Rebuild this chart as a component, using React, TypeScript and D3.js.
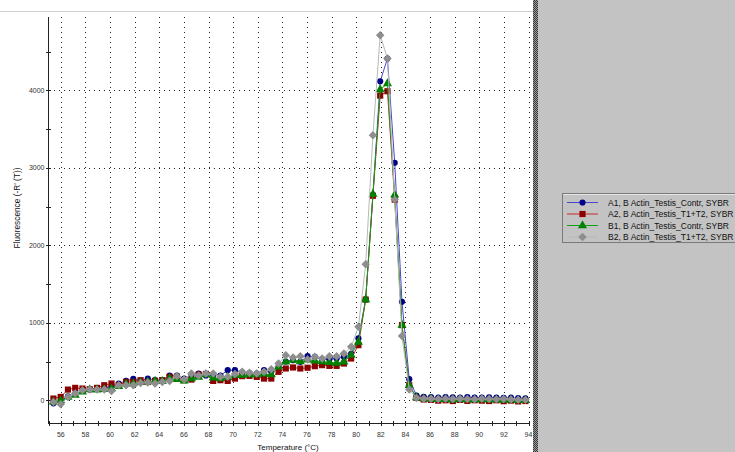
import React from "react";
import * as d3 from "d3";

const temps = [55.40,55.99,56.58,57.17,57.76,58.35,58.94,59.53,60.12,60.71,61.30,61.89,62.48,63.07,63.66,64.25,64.84,65.43,66.02,66.61,67.20,67.79,68.38,68.97,69.56,70.15,70.74,71.33,71.92,72.51,73.10,73.69,74.28,74.87,75.46,76.05,76.64,77.23,77.82,78.41,79.00,79.59,80.18,80.77,81.36,81.95,82.54,83.13,83.72,84.31,84.90,85.49,86.08,86.67,87.26,87.85,88.44,89.03,89.62,90.21,90.80,91.39,91.98,92.57,93.16,93.75];

const a1 = [-40,-15,50,85,125,140,150,160,175,215,250,275,250,280,260,260,320,320,280,320,345,320,330,320,388,388,360,350,345,388,367,430,500,517,496,569,561,530,530,540,560,600,798,1300,2650,4118,4411,3066,1272,272,60,45,40,35,40,38,35,40,36,34,38,35,30,33,28,25];
const a2 = [22,43,138,160,151,142,160,194,216,194,237,237,259,237,250,259,302,302,259,267,330,340,250,259,250,280,311,315,302,280,280,367,410,423,410,420,440,453,444,444,474,539,711,1300,2640,3933,3989,2590,970,194,30,10,5,-5,0,-10,5,-8,0,-5,-10,0,-12,-5,-15,-10];
const b1 = [-20,-5,40,65,108,140,135,140,150,180,210,215,230,240,250,245,280,270,250,280,300,330,290,280,300,323,323,330,330,340,330,431,496,517,500,520,510,500,490,480,497,582,751,1300,2660,4010,4088,2650,970,194,35,20,15,10,12,5,10,8,5,10,4,8,2,5,0,3];
const b2 = [-22,-52,43,86,129,138,138,138,121,194,194,194,224,230,216,237,250,310,267,345,320,345,345,302,302,340,367,354,345,367,400,474,582,552,569,526,561,539,569,569,604,690,948,1755,3420,4713,4411,2590,828,138,30,20,18,15,20,15,18,16,14,18,15,12,15,10,8,5];

const seriesNames = [
  "A1, B Actin_Testis_Contr, SYBR",
  "A2, B Actin_Testis_T1+T2, SYBR",
  "B1, B Actin_Testis_Contr, SYBR",
  "B2, B Actin_Testis_T1+T2, SYBR",
];
const seriesValues = [a1, a2, b1, b2];
const lineColors = ["#4646d2", "#c42a2a", "#10a010", "#b8b8b8"];
const markerColors = ["#000088", "#8b0000", "#008000", "#8e8e8e"];
const markerTypes = ["circle", "square", "triangle", "diamond"];

const xTicksLabeled = [56,58,60,62,64,66,68,70,72,74,76,78,80,82,84,86,88,90,92,94];
const xMinorTicks = d3.range(55, 95, 1);
const yTicksLabeled = [0, 1000, 2000, 3000, 4000];
const yMinorTicks = [500, 1500, 2500, 3500, 4500];

const W = 735, H = 452;
const FONT = "'Liberation Sans', Arial, sans-serif";

function markerPath(type: string): string {
  const s = d3.symbol();
  if (type === "circle") return s.type(d3.symbolCircle).size(30)() as string;
  if (type === "square") return s.type(d3.symbolSquare).size(38)() as string;
  if (type === "triangle") return s.type(d3.symbolTriangle).size(36)() as string;
  return s.type(d3.symbolSquare).size(36)() as string;
}

export default function App() {
  const x = d3.scaleLinear().domain([55, 94]).range([48.5, 528.5]);
  const y = d3.scaleLinear().domain([-300, 4950]).range([423.5, 16.8]);
  const plotL = 48.5, plotR = 528.5, plotT = 16.8, plotB = 423.5;

  const line = d3
    .line<number>()
    .x((_, i) => x(temps[i]))
    .y((d) => y(d));

  return (
    <svg
      width={W}
      height={H}
      style={{ position: "fixed", left: 0, top: 0, display: "block", background: "#fff" }}
      fontFamily={FONT}
    >
      <defs>
        <pattern id="checker" width="2" height="2" patternUnits="userSpaceOnUse">
          <rect width="2" height="2" fill="#9a9a9a" />
          <rect width="1" height="1" fill="#3a3a3a" />
          <rect x="1" y="1" width="1" height="1" fill="#3a3a3a" />
        </pattern>
        <clipPath id="plotclip">
          <rect x={0} y={0} width={532} height={H} />
        </clipPath>
      </defs>

      <rect x={0} y={0} width={533} height={H} fill="#fff" />
      <line x1={0} x2={533} y1={11.5} y2={11.5} stroke="#cfcfcf" strokeWidth={1} />

      {/* grid */}
      {xTicksLabeled.map((t) => (
        <line
          key={"gx" + t}
          x1={Math.round(x(t)) + 0.5}
          x2={Math.round(x(t)) + 0.5}
          y1={plotT}
          y2={plotB}
          stroke="#222"
          strokeDasharray="1,4"
          shapeRendering="crispEdges"
        />
      ))}
      {yTicksLabeled.map((t) => (
        <line
          key={"gy" + t}
          x1={plotL}
          x2={plotR}
          y1={Math.round(y(t)) + 0.5}
          y2={Math.round(y(t)) + 0.5}
          stroke="#222"
          strokeDasharray="1,4"
          shapeRendering="crispEdges"
        />
      ))}

      {/* axes */}
      <line x1={plotL} x2={plotL} y1={plotT} y2={plotB} stroke="#222" shapeRendering="crispEdges" />
      <line x1={plotL} x2={plotR} y1={plotB} y2={plotB} stroke="#222" shapeRendering="crispEdges" />
      {yTicksLabeled.concat(yMinorTicks).map((t) => (
        <line
          key={"ty" + t}
          x1={plotL - 2.5}
          x2={plotL + 2.5}
          y1={Math.round(y(t)) + 0.5}
          y2={Math.round(y(t)) + 0.5}
          stroke="#222"
          shapeRendering="crispEdges"
        />
      ))}
      {xMinorTicks.map((t) => (
        <line
          key={"tx" + t}
          x1={Math.round(x(t)) + 0.5}
          x2={Math.round(x(t)) + 0.5}
          y1={plotB - 2.5}
          y2={plotB + 2.5}
          stroke="#222"
          shapeRendering="crispEdges"
        />
      ))}
      {yTicksLabeled.map((t) => (
        <text key={"ly" + t} x={44.5} y={y(t) + 2.5} fontSize={7} textAnchor="end" fill="#333">
          {t}
        </text>
      ))}
      {xTicksLabeled.map((t) => (
        <text key={"lx" + t} x={x(t)} y={437} fontSize={7} textAnchor="middle" fill="#333">
          {t}
        </text>
      ))}
      <text
        transform="translate(19.5,208) rotate(-90)"
        fontSize={8.3}
        textAnchor="middle"
        fill="#111"
      >
        Fluorescence (-R' (T))
      </text>
      <text x={288} y={449.5} fontSize={8} textAnchor="middle" fill="#111">
        Temperature (°C)
      </text>

      {/* series */}
      <g clipPath="url(#plotclip)">
        {seriesValues.map((vals, si) => (
          <g key={"s" + si}>
            <path d={line(vals) || ""} fill="none" stroke={lineColors[si]} strokeWidth={1} />
            {vals.map((v, i) => (
              <path
                key={i}
                d={markerPath(markerTypes[si])}
                transform={
                  `translate(${x(temps[i])},${y(v)})` +
                  (markerTypes[si] === "diamond" ? " rotate(45)" : "")
                }
                fill={markerColors[si]}
              />
            ))}
          </g>
        ))}
      </g>

      {/* right panel */}
      <rect x={533} y={0} width={5} height={H} fill="url(#checker)" />
      <rect x={538} y={0} width={W - 538} height={H} fill="#c3c3c3" />

      {/* legend */}
      <rect x={562.5} y={193.5} width={200} height={49} fill="#c3c3c3" stroke="#7a7a7a" />
      <line x1={563.5} x2={760} y1={194.5} y2={194.5} stroke="#e6e6e6" />
      {seriesNames.map((name, si) => {
        const ry = 202.5 + si * 11.5;
        return (
          <g key={"lg" + si}>
            <line x1={567} x2={598} y1={ry} y2={ry} stroke={lineColors[si]} strokeWidth={1} />
            <path
              d={markerPath(markerTypes[si])}
              transform={`translate(582.5,${ry})` + (markerTypes[si] === "diamond" ? " rotate(45)" : "")}
              fill={markerColors[si]}
            />
            <text x={608} y={ry + 3} fontSize={8.5} fill="#111">
              {name}
            </text>
          </g>
        );
      })}
    </svg>
  );
}
